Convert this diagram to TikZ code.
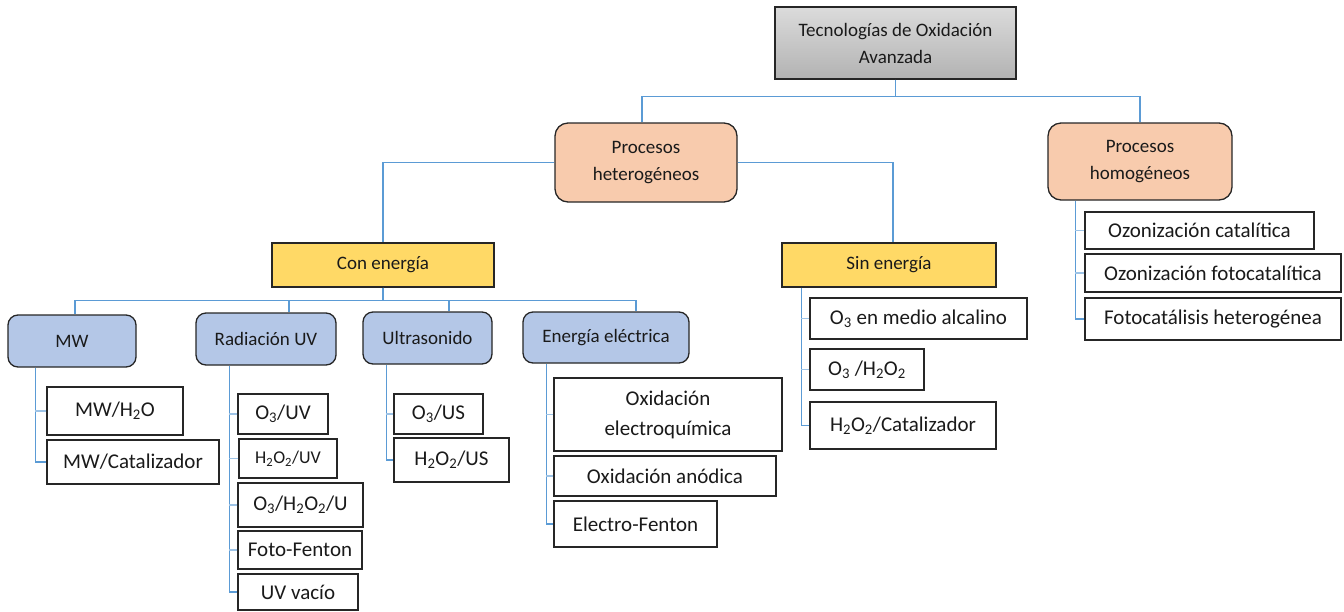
\documentclass[tikz,border=0pt]{standalone}
\usepackage{fontspec}
\setmainfont{Carlito}
\usetikzlibrary{calc}
\definecolor{lineblue}{HTML}{5B9BD5}
\definecolor{stubblue}{HTML}{9DC3E6}
\definecolor{peach}{HTML}{F8CBAD}
\definecolor{ylw}{HTML}{FFD966}
\definecolor{lblue}{HTML}{B4C7E7}
\definecolor{txt}{HTML}{1A1A1A}
\tikzset{
  base/.style={draw=black!85, line width=1.3pt, inner sep=0pt, align=center,
    text=txt, font=\fontsize{19}{27}\selectfont},
  topbox/.style={base, top color=black!14, bottom color=black!30},
  procbox/.style={base, fill=peach, rounded corners=13pt},
  enbox/.style={base, fill=ylw},
  catbox/.style={base, fill=lblue, rounded corners=10pt},
  leafbox/.style={base, fill=white, font=\fontsize{21}{30}\selectfont},
  conn/.style={draw=lineblue, line width=1.3pt},
  stub/.style={draw=stubblue, line width=1.1pt},
}
\newcommand{\bx}[6]{\node[#1, minimum width=#4pt, minimum height=#5pt] (#2) at (#3) {#6};}
\begin{document}
\begin{tikzpicture}[x=1pt, y=-1pt]
\useasboundingbox (0,0) rectangle (1344,611);
% main nodes
\bx{topbox}{top}{895.5,43}{241}{72}{Tecnologías de Oxidación\\Avanzada}
\bx{procbox}{het}{646,162.5}{182}{79}{Procesos\\heterogéneos}
\bx{procbox}{hom}{1140,161.5}{184}{77}{Procesos\\homogéneos}
\bx{enbox}{con}{383,265}{222}{44}{Con energía}
\bx{enbox}{sin}{889,265}{214}{44}{Sin energía}
\bx{catbox}{mw}{72,341}{128}{52}{MW}
\bx{catbox}{uv}{266,339}{140}{52}{Radiación UV}
\bx{catbox}{us}{427.5,338}{129}{52}{Ultrasonido}
\bx{catbox}{ee}{606,337.5}{166}{51}{Energía eléctrica}
% leaves
\bx{leafbox}{mwh}{115,411}{136}{48}{MW/H\textsubscript{2}O}
\bx{leafbox}{mwc}{133,462}{172}{44}{MW/Catalizador}
\bx{leafbox}{uva}{283,414}{90}{40}{O\textsubscript{3}/UV}
\bx{leafbox}{uvb}{288,458.5}{98}{39}{\fontsize{18}{20}\selectfont H\textsubscript{2}O\textsubscript{2}/UV}
\bx{leafbox}{uvc}{300.5,505}{125}{44}{O\textsubscript{3}/H\textsubscript{2}O\textsubscript{2}/U}
\bx{leafbox}{uvd}{300,550}{124}{38}{Foto-Fenton}
\bx{leafbox}{uve}{298,592}{120}{36}{UV vacío}
\bx{leafbox}{usa}{438.5,414}{89}{40}{O\textsubscript{3}/US}
\bx{leafbox}{usb}{451.5,460}{115}{44}{H\textsubscript{2}O\textsubscript{2}/US}
\bx{leafbox}{eea}{668,414.5}{228}{73}{Oxidación\\electroquímica}
\bx{leafbox}{eeb}{665,476}{222}{40}{Oxidación anódica}
\bx{leafbox}{eec}{635.5,524}{163}{46}{Electro-Fenton}
\bx{leafbox}{sna}{918.5,318.5}{217}{41}{O\textsubscript{3} en medio alcalino}
\bx{leafbox}{snb}{867,369.5}{114}{41}{O\textsubscript{3} /H\textsubscript{2}O\textsubscript{2}}
\bx{leafbox}{snc}{903,425.5}{186}{47}{H\textsubscript{2}O\textsubscript{2}/Catalizador}
\bx{leafbox}{hoa}{1199.5,230.5}{229}{37}{Ozonización catalítica}
\bx{leafbox}{hob}{1213,273}{256}{38}{Ozonización fotocatalítica}
\bx{leafbox}{hoc}{1213,319}{256}{42}{Fotocatálisis heterogénea}
% upper connectors
\draw[conn] (top.south) -- ++(0,17) -| ([xshift=-4pt]het.north);
\draw[conn] (top.south) -- ++(0,17) -| (hom.north);
\draw[conn] (het.west) -| (con.north);
\draw[conn] (het.east) -| ([xshift=4pt]sin.north);
\draw[conn] (con.south) -- ++(0,13) -| ([xshift=3pt]mw.north);
\draw[conn] (con.south) -- ++(0,13) -| ([xshift=23pt]uv.north);
\draw[conn] (con.south) -- ++(0,13) -| ([xshift=21.5pt]us.north);
\draw[conn] (con.south) -- ++(0,13) -| ([xshift=30pt]ee.north);
% child spines
\coordinate (mwv) at ([xshift=28pt]mw.south west);
\coordinate (uvv) at ([xshift=34pt]uv.south west);
\coordinate (usv) at ([xshift=24pt]us.south west);
\coordinate (eev) at ([xshift=24pt]ee.south west);
\coordinate (snv) at ([xshift=20pt]sin.south west);
\coordinate (hov) at ([xshift=28pt]hom.south west);
\draw[conn] (mwv) |- (mwc.west);
\draw[stub] (mwh.west) -- (mwh.west -| mwv);
\draw[conn] (uvv) |- (uve.west);
\foreach \n in {uva,uvb,uvc,uvd} \draw[stub] (\n.west) -- (\n.west -| uvv);
\draw[conn] (usv) |- (usb.west);
\draw[stub] (usa.west) -- (usa.west -| usv);
\draw[conn] (eev) |- (eec.west);
\foreach \n in {eea,eeb} \draw[stub] (\n.west) -- (\n.west -| eev);
\draw[conn] (snv) |- (snc.west);
\foreach \n in {sna,snb} \draw[stub] (\n.west) -- (\n.west -| snv);
\draw[conn] (hov) |- (hoc.west);
\foreach \n in {hoa,hob} \draw[stub] (\n.west) -- (\n.west -| hov);
\end{tikzpicture}
\end{document}
